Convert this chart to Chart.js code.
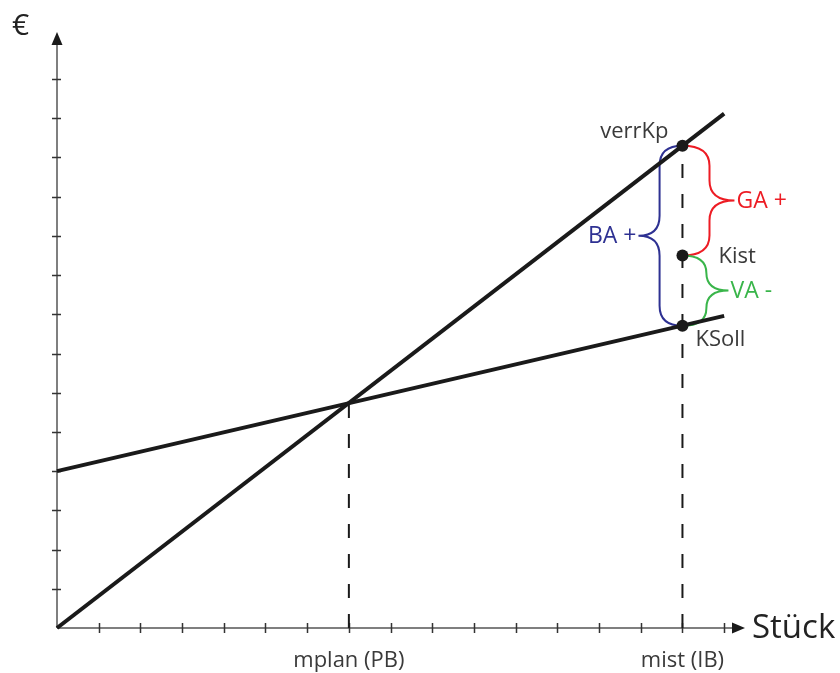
<!DOCTYPE html>
<html>
<head>
<meta charset="utf-8">
<script src="https://cdn.jsdelivr.net/npm/chart.js@4/dist/chart.umd.min.js"></script>
<style>
  html, body { margin: 0; padding: 0; background: #fff; }
  #wrap { width: 840px; height: 673px; }
</style>
</head>
<body>
<div id="wrap"><canvas id="chart" width="840" height="673"></canvas></div>
<script>
// values (x in pieces, y in euro units)
const lineX = [0, 16];
const verrKpLine = [0, 13.12];      // verrechnete Plankosten
const kSollLine = [4.0, 7.96];      // Sollkosten
const markX = [7, 15];              // mplan, mist
const markLabels = ['mplan (PB)', 'mist (IB)'];
const dashTop = [5.74, 12.3];       // dashed lines end at the line crossing / verrKp
const pointNames = ['verrKp', 'Kist', 'KSoll'];
const pointY = [12.3, 9.5, 7.71];
const braceNames = ['GA +', 'VA -', 'BA +'];
const braceFrom = [12.3, 9.5, 12.3];
const braceTo = [9.5, 7.71, 7.71];
const xTicks = [1, 2, 3, 4, 5, 6, 7, 8, 9, 10, 11, 12, 13, 14, 15, 16];
const yTicks = [1, 2, 3, 4, 5, 6, 7, 8, 9, 10, 11, 12, 13, 14];

const BLACK = '#1a1a1a';
const AXIS = '#555555';
const TEXT = '#3a3a3a';
const braceColors = ['#ed1c24', '#39b54a', '#2e3192'];
const FONT = '"Open Sans", "DejaVu Sans", sans-serif';

function pts(xs, ys) {
  return xs.map((x, i) => ({x: x, y: ys[i]}));
}

const datasets = [
  {
    label: 'Punkte',
    data: pointY.map(y => ({x: markX[1], y: y})),
    showLine: false,
    pointRadius: 6,
    pointBackgroundColor: BLACK,
    pointBorderWidth: 0,
  },
  {
    label: 'verrKp',
    data: pts(lineX, verrKpLine),
    showLine: true,
    borderColor: BLACK,
    borderWidth: 4,
    pointRadius: 0,
  },
  {
    label: 'KSoll',
    data: pts(lineX, kSollLine),
    showLine: true,
    borderColor: BLACK,
    borderWidth: 4,
    pointRadius: 0,
  },
];
markX.forEach((x, i) => {
  datasets.push({
    label: markLabels[i],
    data: [{x: x, y: 0}, {x: x, y: dashTop[i]}],
    showLine: true,
    borderColor: BLACK,
    borderWidth: 2,
    borderDash: [14, 16],
    pointRadius: 0,
  });
});

function brace(ctx, x0, y1, y2, dir, depth) {
  const xv = x0 + dir * depth * 0.52;
  const xt = x0 + dir * depth;
  const ym = (y1 + y2) / 2;
  const r = Math.min(20, (y2 - y1) / 4);
  ctx.beginPath();
  ctx.moveTo(x0, y1);
  ctx.quadraticCurveTo(xv, y1, xv, y1 + r);
  ctx.lineTo(xv, ym - r);
  ctx.quadraticCurveTo(xv, ym, xt, ym);
  ctx.quadraticCurveTo(xv, ym, xv, ym + r);
  ctx.lineTo(xv, y2 - r);
  ctx.quadraticCurveTo(xv, y2, x0, y2);
  ctx.stroke();
  return {x: xt, y: ym};
}

const drawing = {
  id: 'drawing',
  beforeDatasetsDraw(chart) {
    const ctx = chart.ctx;
    const xs = chart.scales.x, ys = chart.scales.y;
    const ox = xs.getPixelForValue(0), oy = ys.getPixelForValue(0);
    const xEnd = xs.right, yEnd = ys.top;
    ctx.save();
    // axes
    ctx.strokeStyle = AXIS;
    ctx.fillStyle = BLACK;
    ctx.lineWidth = 1.5;
    ctx.beginPath();
    ctx.moveTo(ox, oy); ctx.lineTo(xEnd - 10, oy);
    ctx.moveTo(ox, oy); ctx.lineTo(ox, yEnd + 10);
    ctx.stroke();
    ctx.beginPath();
    ctx.moveTo(xEnd, oy); ctx.lineTo(xEnd - 13, oy - 5.5); ctx.lineTo(xEnd - 13, oy + 5.5);
    ctx.closePath(); ctx.fill();
    ctx.beginPath();
    ctx.moveTo(ox, yEnd); ctx.lineTo(ox - 5.5, yEnd + 13); ctx.lineTo(ox + 5.5, yEnd + 13);
    ctx.closePath(); ctx.fill();
    // tick marks
    ctx.strokeStyle = '#333';
    ctx.beginPath();
    xTicks.forEach(v => {
      const px = Math.round(xs.getPixelForValue(v)) + 0.5;
      ctx.moveTo(px, oy - 5); ctx.lineTo(px, oy + 5);
    });
    yTicks.forEach(v => {
      const py = Math.round(ys.getPixelForValue(v)) + 0.5;
      ctx.moveTo(ox - 5, py); ctx.lineTo(ox + 4, py);
    });
    ctx.stroke();
    // braces
    const bx = xs.getPixelForValue(markX[1]);
    const dirs = [1, 1, -1];
    const depths = [52, 46, 44];
    ctx.lineWidth = 2;
    ctx.font = '23px ' + FONT;
    ctx.textBaseline = 'middle';
    braceNames.forEach((name, i) => {
      ctx.strokeStyle = braceColors[i];
      const tip = brace(ctx, bx, ys.getPixelForValue(braceFrom[i]), ys.getPixelForValue(braceTo[i]), dirs[i], depths[i]);
      ctx.fillStyle = braceColors[i];
      ctx.textAlign = dirs[i] > 0 ? 'left' : 'right';
      ctx.fillText(name, tip.x + dirs[i] * 2, tip.y + 1);
    });
    ctx.restore();
  },
  afterDraw(chart) {
    const ctx = chart.ctx;
    const xs = chart.scales.x, ys = chart.scales.y;
    const ox = xs.getPixelForValue(0), oy = ys.getPixelForValue(0);
    ctx.save();
    ctx.fillStyle = TEXT;
    ctx.textBaseline = 'middle';
    // x labels
    ctx.font = '22px ' + FONT;
    ctx.textAlign = 'center';
    markX.forEach((x, i) => ctx.fillText(markLabels[i], xs.getPixelForValue(x), oy + 33));
    // point labels
    const px = xs.getPixelForValue(markX[1]);
    ctx.font = '22px ' + FONT;
    const offs = [[-14, -14, 'right'], [36, 1, 'left'], [13, 14, 'left']];
    pointNames.forEach((n, i) => {
      ctx.textAlign = offs[i][2];
      ctx.fillText(n, px + offs[i][0], ys.getPixelForValue(pointY[i]) + offs[i][1]);
    });
    // axis titles
    ctx.fillStyle = '#222';
    ctx.font = '33px ' + FONT;
    ctx.textAlign = 'left';
    ctx.fillText('Stück', xs.right + 7, oy + 1);
    ctx.font = '30px ' + FONT;
    ctx.fillText('€', ox - 45, ys.top - 6);
    ctx.restore();
  }
};

new Chart(document.getElementById('chart'), {
  type: 'scatter',
  data: {datasets: datasets},
  options: {
    responsive: false,
    animation: false,
    layout: {padding: {left: 57, right: 95, top: 32, bottom: 45}},
    plugins: {legend: {display: false}, tooltip: {enabled: false}},
    elements: {line: {tension: 0, fill: false}},
    datasets: {scatter: {clip: false}},
    scales: {
      x: {type: 'linear', min: 0, max: 16.5, display: false},
      y: {type: 'linear', min: 0, max: 15.2, display: false},
    },
  },
  plugins: [drawing],
});
</script>
</body>
</html>
